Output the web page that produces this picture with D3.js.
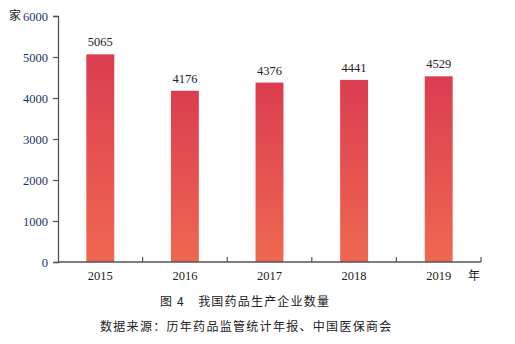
<!DOCTYPE html>
<html><head><meta charset="utf-8">
<script src="https://cdn.jsdelivr.net/npm/d3@7"></script>
<style>body{margin:0;background:#fff}svg{display:block}</style>
</head><body>
<script>
const years = ["2015","2016","2017","2018","2019"];
const counts = [5065,4176,4376,4441,4529];
const yTicks = [0,1000,2000,3000,4000,5000,6000];
const yUnit = "家";
const xUnit = "年";
const caption = "图 4　我国药品生产企业数量";
const source = "数据来源：历年药品监管统计年报、中国医保商会";

(function(){
const W=515,H=344;
const svg=d3.select("body").append("svg").attr("width",W).attr("height",H);
const mLeft=58,mRight=481,mTop=16,mBottom=262;
const x=d3.scaleBand().domain(years).range([mLeft,mRight]).paddingInner(0.67).paddingOuter(0.335);
const xb=d3.scaleBand().domain(years).range([mLeft,mRight]);
const y=d3.scaleLinear().domain([0,6000]).range([mBottom,mTop]);
const serif="'Liberation Serif','Times New Roman',serif";
const cjk="'Noto Sans CJK SC',sans-serif";

const defs=svg.append("defs");
const g=defs.append("linearGradient").attr("id","bg").attr("x1",0).attr("y1",0).attr("x2",0).attr("y2",1);
g.append("stop").attr("offset","0%").attr("stop-color","#db3d50");
g.append("stop").attr("offset","100%").attr("stop-color","#ef6850");

svg.selectAll("rect.bar").data(years).join("rect").attr("class","bar")
  .attr("x",d=>x(d)).attr("width",x.bandwidth())
  .attr("y",(d,i)=>y(counts[i])).attr("height",(d,i)=>mBottom-y(counts[i]))
  .attr("fill","url(#bg)");

svg.selectAll("text.val").data(years).join("text").attr("class","val")
  .attr("x",d=>x(d)+x.bandwidth()/2).attr("y",(d,i)=>y(counts[i])-8)
  .attr("text-anchor","middle").attr("font-family",serif).attr("font-size",12.5).attr("fill","#222")
  .text((d,i)=>counts[i]);

const ya=svg.append("g").attr("transform",`translate(${mLeft},0)`)
  .call(d3.axisLeft(y).tickValues(yTicks).tickSize(5).tickPadding(5).tickFormat(d3.format("d")));
ya.select(".domain").attr("stroke","#555").attr("stroke-width",1.3);
ya.selectAll(".tick line").attr("stroke","#555").attr("stroke-width",1.2);
ya.selectAll(".tick text").attr("font-family",serif).attr("font-size",12.5).attr("fill","#1c3566");

const xa=svg.append("g").attr("transform",`translate(0,${mBottom})`);
xa.append("line").attr("x1",mLeft).attr("x2",mRight).attr("stroke","#555").attr("stroke-width",1.5);
const bounds=years.map(d=>xb(d)+xb.bandwidth());
xa.selectAll("line.t").data(bounds).join("line").attr("class","t")
  .attr("x1",d=>d).attr("x2",d=>d).attr("y1",0).attr("y2",-5).attr("stroke","#555").attr("stroke-width",1.2);
xa.selectAll("text").data(years).join("text")
  .attr("x",d=>x(d)+x.bandwidth()/2).attr("y",18).attr("text-anchor","middle")
  .attr("font-family",serif).attr("font-size",12.5).attr("fill","#222").text(d=>d);

svg.append("text").attr("x",15).attr("y",20).attr("text-anchor","middle").attr("font-family",cjk).attr("font-size",12).attr("fill","#222").text(yUnit);
svg.append("text").attr("x",474).attr("y",280).attr("text-anchor","middle").attr("font-family",cjk).attr("font-size",12).attr("fill","#222").text(xUnit);
svg.append("text").attr("x",160).attr("y",306).attr("font-family",cjk).attr("font-size",12).attr("letter-spacing",1.2).attr("fill","#222").text(caption);
svg.append("text").attr("x",100).attr("y",331).attr("font-family",cjk).attr("font-size",12).attr("letter-spacing",1.3).attr("fill","#222").text(source);
})();
</script>
</body></html>
